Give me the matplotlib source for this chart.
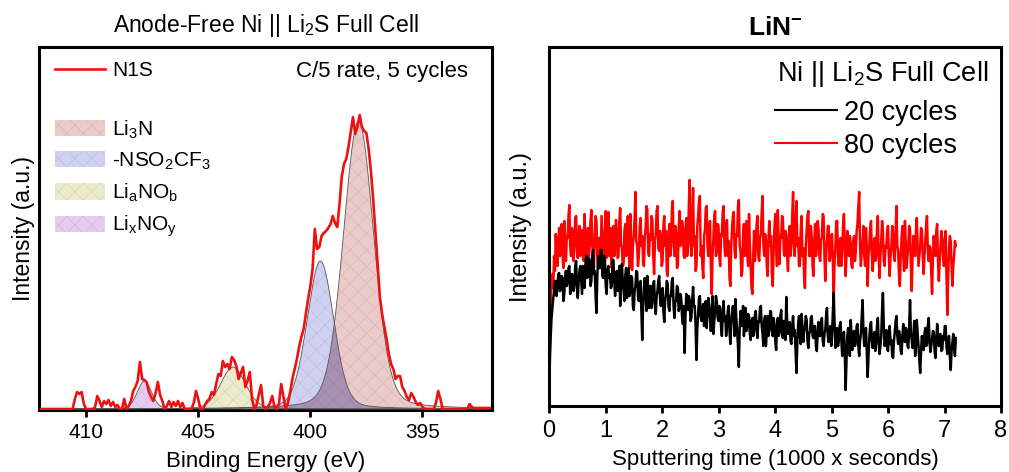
import numpy as np
import matplotlib
matplotlib.use("Agg")
import matplotlib.pyplot as plt
from matplotlib.lines import Line2D
from matplotlib.patches import Patch

plt.rcParams['font.family'] = 'Liberation Sans'
plt.rcParams['mathtext.fontset'] = 'custom'
plt.rcParams['mathtext.rm'] = 'Liberation Sans'
plt.rcParams['mathtext.bf'] = 'Liberation Sans:bold'
plt.rcParams['mathtext.default'] = 'regular'
plt.rcParams['hatch.linewidth'] = 0.5

# ---- left: N 1s XPS spectrum, 412 -> 392 eV, 0.1 eV step ----
n1s = [
    0, 0, 0, 0, 0, 0, 0, 0, 0, 0,
    0, 0, 0, 0, 0, 10, 17, 15, 17, 5,
    0, 0, 0, 0, 2, 13, 8, 2, 8, 5,
    9, 3, 7, 2, 4, 0, 0, 10, 0, 3,
    8, 18, 22, 28, 47, 30, 29, 27, 17, 12,
    8, 16, 27, 14, 8, 0, 3, 8, 2, 7,
    3, 8, 2, 6, 0, 0, 0, 0, 6, 18,
    10, 0, 0, 4, 8, 10, 17, 14, 25, 35,
    33, 48, 42, 45, 40, 52, 49, 43, 30, 36,
    42, 22, 28, 37, 10, 0, 4, 14, 24, 3,
    0, 2, 6, 13, 2, 0, 5, 25, 12, 0,
    6, 17, 30, 40, 50, 62, 72, 80, 95, 110,
    123, 140, 180, 160, 162, 173, 176, 178, 181, 185,
    193, 186, 182, 205, 232, 245, 250, 262, 277, 292,
    275, 282, 294, 282, 278, 276, 260, 238, 210, 178,
    145, 112, 95, 82, 70, 55, 45, 40, 30, 33,
    33, 22, 18, 12, 9, 16, 12, 7, 4, 6,
    2, 0, 0, 0, 0, 0, 6, 18, 10, 0,
    0, 0, 0, 0, 0, 0, 0, 0, 0, 0,
    0, 5, 2, 1, 1, 1, 1, 1, 1, 1,
    1,
]

# fitted components (pseudo-Voigt parameters)
comp_labels = ['Li$_3$N', '-NSO$_2$CF$_3$', 'Li$_a$NO$_b$', 'Li$_x$NO$_y$']
comp_center = [397.85, 399.55, 403.45, 407.4]
comp_height = [288, 148, 42, 28]
comp_fwhm = [1.6, 1.4, 1.3, 0.75]
comp_colors = ['#eccaca', '#d0d0f2', '#ececcc', '#e8cbf0']
overlap_color = '#a890b4'
lorentz_frac = 0.2

# ---- right: LiN- ToF-SIMS depth profile, 0 -> 7.2 (1000 s), 15 s step ----
cyc80 = [
    16, 60, 98, 125, 132, 118, 150, 135, 172, 150, 140, 165, 178, 150, 160, 182, 150, 138, 185, 162,
    145, 170, 168, 190, 201, 160, 150, 178, 175, 145, 162, 188, 190, 155, 148, 172, 180, 150, 155, 176,
    170, 145, 192, 160, 146, 175, 178, 150, 160, 185, 196, 162, 150, 138, 172, 190, 185, 150, 140, 168,
    165, 145, 190, 172, 155, 135, 176, 195, 148, 160, 194, 150, 162, 178, 138, 170, 180, 150, 158, 186,
    175, 148, 150, 185, 198, 160, 160, 140, 142, 175, 182, 150, 168, 190, 155, 138, 192, 165, 136, 160,
    170, 188, 214, 165, 160, 140, 150, 178, 188, 160, 170, 145, 140, 168, 178, 200, 196, 155, 150, 172,
    166, 190, 185, 150, 132, 165, 172, 195, 200, 158, 155, 175, 168, 140, 145, 180, 190, 160, 175, 135,
    130, 170, 182, 150, 160, 195, 205, 165, 150, 180, 172, 138, 140, 176, 195, 160, 165, 185, 178, 150,
    148, 176, 188, 150, 160, 200, 226, 165, 150, 185, 218, 160, 170, 135, 140, 180, 190, 205, 210, 150,
    160, 140, 128, 170, 176, 198, 200, 160, 150, 178, 185, 140, 112, 150, 168, 190, 195, 150, 155, 182,
    180, 150, 140, 172, 170, 195, 200, 160, 150, 178, 186, 150, 165, 128, 120, 160, 178, 190, 194, 155,
    148, 172, 170, 200, 206, 160, 155, 130, 135, 170, 182, 150, 168, 185, 150, 140, 192, 160, 140, 118,
    112, 150, 175, 145, 160, 182, 190, 150, 145, 168, 172, 195, 210, 160, 150, 172, 165, 140, 130, 168,
    185, 160, 170, 132, 120, 155, 178, 192, 160, 140, 196, 165, 142, 170, 168, 190, 188, 155, 150, 175,
    172, 150, 135, 165, 180, 150, 160, 190, 214, 165, 150, 180, 205, 160, 168, 140, 140, 175, 190, 150,
    158, 130, 118, 160, 175, 190, 195, 150, 150, 180, 168, 140, 130, 165, 182, 150, 160, 185, 176, 150,
    145, 165, 170, 192, 190, 150, 125, 150, 165, 180, 180, 145, 150, 170, 172, 140, 110, 145, 160, 185,
    185, 150, 140, 165, 168, 140, 155, 180, 192, 160, 130, 150, 175, 160, 150, 170, 162, 140, 138, 165,
    170, 145, 155, 175, 182, 200, 214, 160, 140, 155, 165, 180, 150, 140, 178, 160, 120, 150, 160, 178,
    185, 150, 135, 160, 168, 145, 150, 176, 190, 150, 128, 150, 165, 185, 175, 145, 140, 160, 158, 175,
    180, 150, 130, 150, 160, 180, 172, 150, 145, 175, 200, 160, 155, 130, 120, 150, 168, 180, 150, 135,
    185, 160, 138, 150, 162, 180, 176, 140, 115, 150, 170, 155, 150, 175, 188, 160, 140, 150, 160, 178,
    175, 150, 132, 150, 165, 180, 190, 155, 145, 160, 158, 135, 112, 150, 170, 155, 150, 175, 182, 145,
    125, 145, 160, 175, 168, 150, 140, 165, 175, 130, 91, 130, 158, 170, 165, 140, 120, 140, 150, 165,
    160,
]
cyc20 = [
    6, 45, 70, 88, 98, 108, 113, 125, 125, 110, 120, 132, 133, 115, 118, 130, 128, 105, 112, 128,
    135, 120, 124, 138, 140, 112, 116, 132, 130, 115, 122, 140, 145, 118, 108, 125, 136, 140, 126, 112,
    140, 125, 118, 142, 150, 128, 130, 148, 145, 120, 125, 150, 156, 132, 135, 110, 93, 130, 150, 138,
    138, 156, 156, 130, 128, 150, 146, 120, 112, 135, 140, 128, 132, 118, 120, 145, 146, 125, 110, 132,
    135, 115, 124, 140, 100, 118, 142, 125, 118, 105, 130, 138, 108, 125, 138, 110, 115, 130, 128, 100,
    96, 115, 120, 135, 134, 110, 105, 122, 125, 95, 66, 100, 118, 128, 110, 95, 130, 115, 98, 120,
    120, 98, 106, 122, 125, 100, 92, 110, 115, 125, 130, 108, 100, 115, 118, 95, 84, 105, 112, 125,
    122, 100, 95, 110, 110, 125, 128, 100, 88, 105, 105, 120, 118, 95, 98, 112, 108, 90, 82, 100,
    53, 90, 112, 100, 96, 110, 106, 85, 88, 105, 119, 100, 100, 80, 46, 78, 92, 108, 110, 90,
    85, 98, 102, 80, 95, 105, 78, 90, 108, 96, 90, 75, 100, 110, 72, 85, 96, 110, 104, 88,
    85, 100, 98, 80, 70, 92, 105, 85, 90, 70, 80, 95, 100, 75, 62, 85, 92, 100, 84, 70,
    107, 88, 75, 60, 39, 78, 95, 80, 86, 100, 70, 85, 98, 75, 80, 92, 90, 72, 66, 85,
    88, 70, 76, 92, 95, 75, 68, 85, 84, 98, 100, 80, 72, 60, 86, 90, 60, 75, 90, 70,
    78, 95, 94, 75, 70, 88, 82, 65, 56, 80, 88, 70, 74, 90, 96, 72, 68, 85, 80, 66,
    109, 85, 72, 80, 84, 65, 62, 80, 90, 70, 76, 55, 33, 65, 82, 90, 70, 62, 92, 80,
    64, 75, 78, 90, 86, 65, 58, 72, 75, 88, 90, 70, 68, 80, 80, 60, 55, 72, 84, 70,
    70, 82, 88, 65, 60, 72, 76, 90, 98, 70, 64, 75, 80, 60, 72, 95, 113, 80, 58, 70,
    78, 60, 66, 80, 84, 65, 50, 62, 74, 55, 16, 45, 70, 78, 62, 50, 86, 70, 56, 72,
    75, 60, 64, 80, 82, 60, 50, 65, 72, 90, 106, 75, 60, 70, 78, 55, 29, 50, 68, 80,
    84, 65, 58, 70, 74, 55, 62, 80, 88, 65, 52, 60, 70, 95, 113, 80, 60, 65, 76, 58,
    55, 70, 80, 62, 66, 50, 48, 65, 74, 85, 90, 70, 62, 75, 70, 55, 52, 70, 82, 65,
    64, 78, 76, 60, 58, 80, 106, 72, 66, 58, 72, 85, 50, 60, 86, 72, 60, 45, 33, 55,
    70, 62, 56, 72, 78, 60, 62, 80, 88, 65, 54, 60, 68, 75, 74, 55, 48, 65, 82, 70,
    60, 72, 72, 55, 56, 70, 66, 80, 80, 60, 52, 65, 70, 50, 36, 55, 64, 72, 58, 50,
    68,
]


def pseudo_voigt(x, c, h, w, eta):
    g = np.exp(-4 * np.log(2) * ((x - c) / w) ** 2)
    l = 1.0 / (1 + 4 * ((x - c) / w) ** 2)
    return h * ((1 - eta) * g + eta * l)


fig = plt.figure(figsize=(10.09, 4.72), dpi=100)
ax1 = fig.add_axes([39 / 1009, 62 / 472, 453 / 1009, 363 / 472])
ax2 = fig.add_axes([549 / 1009, 66 / 472, 452 / 1009, 359 / 472])

# ---------- left panel ----------
be = np.linspace(412.0, 392.0, len(n1s))
xf = np.linspace(412.0, 392.0, 2001)
comps = [pseudo_voigt(xf, c, h, w, lorentz_frac)
         for c, h, w in zip(comp_center, comp_height, comp_fwhm)]
hatch_col = (0.5, 0.5, 0.5, 0.22)

for y, col in zip(comps, comp_colors):
    ax1.fill_between(xf, 0, y, facecolor=col, edgecolor='none', zorder=1)
# overlap of Li3N and -NSO2CF3 is shaded darker
overlap = np.minimum(comps[0], comps[1])
ax1.fill_between(xf, 0, overlap, facecolor=overlap_color, edgecolor='none', zorder=1.5)
for y in comps:
    ax1.fill_between(xf, 0, y, facecolor='none', edgecolor=hatch_col,
                     hatch='xx', linewidth=0, zorder=2)
    ax1.plot(xf, y, color='#555555', lw=0.6, zorder=3)

ax1.plot(be, n1s, color='#ee1111', lw=1.9, zorder=4)

ax1.set_xlim(412.1, 391.9)
ax1.set_ylim(-1, 362)
ax1.set_xticks([410, 405, 400, 395])
ax1.set_yticks([])
ax1.set_xlabel('Binding Energy (eV)', fontsize=16, labelpad=7)
ax1.set_ylabel('Intensity (a.u.)', fontsize=16.5, labelpad=3)
ax1.set_title('Anode-Free Ni || Li$_2$S Full Cell', fontsize=16.5, pad=11)
ax1.text(0.947, 0.932, 'C/5 rate, 5 cycles', transform=ax1.transAxes,
         ha='right', va='center', fontsize=16)

leg1 = ax1.legend(handles=[Line2D([], [], color='#ee1111', lw=1.9)], labels=['N1S'],
                  loc='upper left', bbox_to_anchor=(0.035, 0.961), frameon=False,
                  fontsize=15, handlelength=2.4, handletextpad=0.35,
                  borderpad=0, borderaxespad=0)
ax1.add_artist(leg1)
patches = [Patch(facecolor=c, edgecolor=hatch_col, hatch='xx', linewidth=0)
           for c in comp_colors]
ax1.legend(handles=patches, labels=comp_labels, loc='upper left',
           bbox_to_anchor=(0.035, 0.803), frameon=False, fontsize=15,
           handlelength=2.4, handleheight=0.82, handletextpad=0.35,
           labelspacing=0.47, borderpad=0, borderaxespad=0)

# ---------- right panel ----------
t80 = np.linspace(0, 7.2, len(cyc80))
t20 = np.linspace(0, 7.2, len(cyc20))
ax2.plot(t80, cyc80, color='#ff0000', lw=1.8, zorder=2)
ax2.plot(t20, cyc20, color='black', lw=1.8, zorder=3)
ax2.set_xlim(0, 8)
ax2.set_ylim(0, 359)
ax2.set_xticks(range(0, 9))
ax2.set_yticks([])
ax2.set_xlabel('Sputtering time (1000 x seconds)', fontsize=16, labelpad=5)
ax2.set_ylabel('Intensity (a.u.)', fontsize=17, labelpad=12)
ax2.set_title(r'LiN$^{\mathbf{-}}$', fontsize=19, fontweight='bold', pad=9)
ax2.text(0.971, 0.925, 'Ni || Li$_2$S Full Cell', transform=ax2.transAxes,
         ha='right', va='center', fontsize=19.5)
ax2.legend(handles=[Line2D([], [], color='black', lw=1.5),
                    Line2D([], [], color='#ff0000', lw=1.5)],
           labels=['20 cycles', '80 cycles'], loc='upper left',
           bbox_to_anchor=(0.5, 0.853), frameon=False, fontsize=19.5,
           handlelength=2.3, handletextpad=0.26, labelspacing=0.26,
           borderpad=0, borderaxespad=0)

for ax, ls, pd in ((ax1, 15, 4), (ax2, 17, 5)):
    for sp in ax.spines.values():
        sp.set_linewidth(2.2)
    ax.tick_params(axis='x', direction='out', length=5, width=2, labelsize=ls, pad=pd)

fig.savefig('out.png', dpi=100)
